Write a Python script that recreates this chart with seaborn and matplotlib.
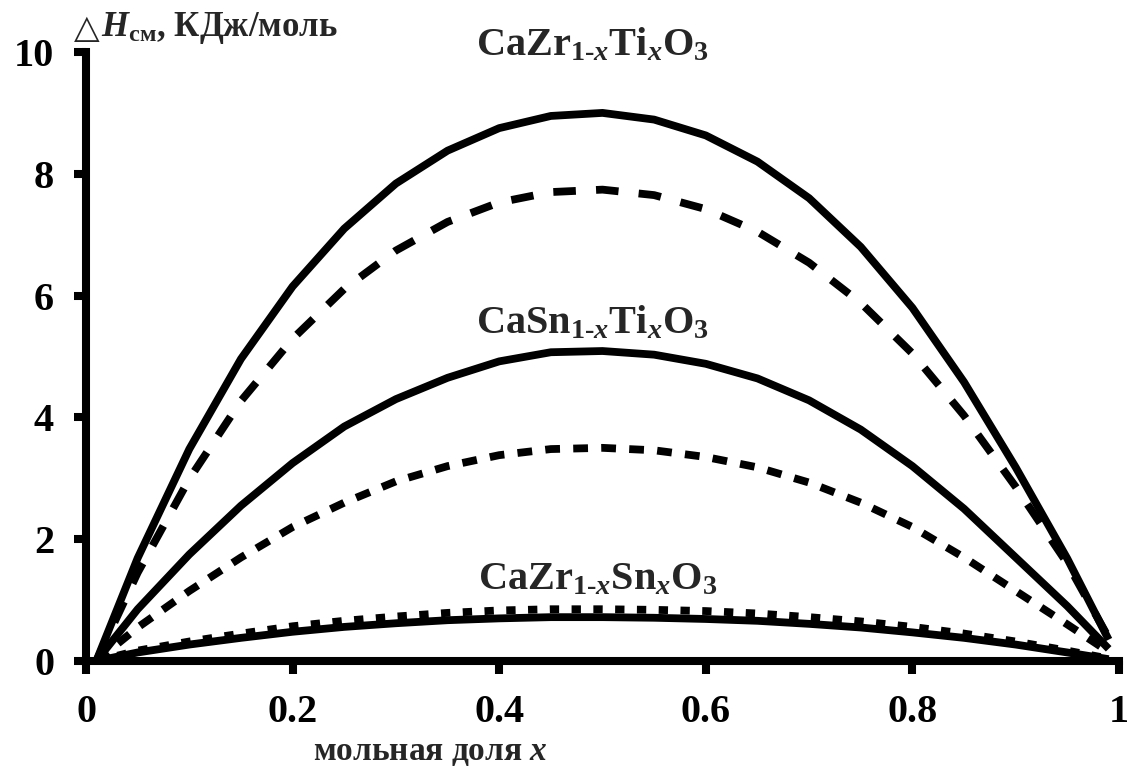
import numpy as np
import pandas as pd
import matplotlib
matplotlib.use("Agg")
import matplotlib.pyplot as plt
import seaborn as sns

# ---- data ----
x_frac = [0.01, 0.05, 0.10, 0.15, 0.20, 0.25, 0.30, 0.35, 0.40, 0.45, 0.50,
          0.55, 0.60, 0.65, 0.70, 0.75, 0.80, 0.85, 0.90, 0.95, 0.99]
zr_ti_solid = [0.0, 1.69, 3.48, 4.96, 6.15, 7.10, 7.84, 8.38, 8.75, 8.95, 9.00,
               8.89, 8.63, 8.20, 7.60, 6.80, 5.80, 4.58, 3.18, 1.68, 0.35]
zr_ti_dash = [0.0, 1.45, 2.99, 4.27, 5.29, 6.11, 6.74, 7.21, 7.53, 7.70, 7.74,
              7.65, 7.42, 7.05, 6.54, 5.88, 5.05, 4.03, 2.86, 1.60, 0.38]
sn_ti_solid = [0.0, 0.85, 1.75, 2.55, 3.25, 3.85, 4.30, 4.65, 4.92, 5.07, 5.09,
               5.03, 4.88, 4.64, 4.28, 3.80, 3.20, 2.50, 1.70, 0.90, 0.20]
sn_ti_dash = [0.0, 0.55, 1.15, 1.70, 2.20, 2.60, 2.95, 3.20, 3.38, 3.48, 3.50,
              3.46, 3.35, 3.18, 2.93, 2.60, 2.20, 1.70, 1.15, 0.60, 0.15]
zr_sn_solid = [0.0, 0.14, 0.27, 0.38, 0.48, 0.56, 0.62, 0.67, 0.70, 0.72, 0.72,
               0.71, 0.69, 0.66, 0.61, 0.55, 0.47, 0.38, 0.27, 0.14, 0.03]
zr_sn_dot = [0.0, 0.17, 0.32, 0.45, 0.57, 0.66, 0.73, 0.79, 0.83, 0.85, 0.85,
             0.84, 0.82, 0.78, 0.72, 0.65, 0.56, 0.45, 0.32, 0.17, 0.04]

x_ticks = [0, 0.2, 0.4, 0.6, 0.8, 1]
x_tick_labels = ["0", "0.2", "0.4", "0.6", "0.8", "1"]
y_ticks = [0, 2, 4, 6, 8, 10]
y_tick_labels = ["0", "2", "4", "6", "8", "10"]

labels = [r"CaZr$_{1\text{-}x}$Ti$_{x}$O$_{3}$",
          r"CaSn$_{1\text{-}x}$Ti$_{x}$O$_{3}$",
          r"CaZr$_{1\text{-}x}$Sn$_{x}$O$_{3}$"]
delta_sym = "△"
y_title = r"$\mathit{H}_{\mathrm{см}}$, КДж/моль"
x_title = r"мольная доля $\mathit{x}$"

# ---- style ----
sns.set_theme(style="white")
plt.rcParams["font.family"] = ["Liberation Serif", "DejaVu Serif"]
plt.rcParams["font.weight"] = "bold"
plt.rcParams["mathtext.fontset"] = "custom"
plt.rcParams["mathtext.rm"] = "Liberation Serif:bold"
plt.rcParams["mathtext.bf"] = "Liberation Serif:bold"
plt.rcParams["mathtext.it"] = "Liberation Serif:italic:bold"

W, H = 1127, 769
fig = plt.figure(figsize=(W / 100, H / 100), dpi=100)
ax = fig.add_axes([86 / W, 1 - 661 / H, (1119 - 86) / W, (661 - 52) / H])

LW = 5.6
series = [
    (zr_ti_solid, "-"),
    (zr_ti_dash, (0, (2.9, 2.6))),
    (sn_ti_solid, "-"),
    (sn_ti_dash, (0, (1.9, 1.7))),
    (zr_sn_solid, "-"),
    (zr_sn_dot, (0, (1.2, 1.6))),
]
for vals, ls in series:
    sns.lineplot(x=x_frac, y=vals, ax=ax, color="black", lw=LW,
                 linestyle=ls, solid_capstyle="butt", dash_capstyle="butt",
                 solid_joinstyle="round")

ax.set_xlim(0, 1)
ax.set_ylim(0, 10)
ax.set_xticks(x_ticks)
ax.set_xticklabels(x_tick_labels)
ax.set_yticks(y_ticks)
ax.set_yticklabels(y_tick_labels)
ax.set_xlabel("")
ax.set_ylabel("")
for s in ["top", "right"]:
    ax.spines[s].set_visible(False)
for s in ["left", "bottom"]:
    ax.spines[s].set_visible(True)
    ax.spines[s].set_color("black")
    ax.spines[s].set_linewidth(5.8)
    ax.spines[s].set_capstyle("projecting")
ax.tick_params(axis="both", which="major", direction="out", length=9,
               width=5.8, color="black", labelsize=29, labelcolor="black",
               bottom=True, left=True, top=False, right=False)
ax.tick_params(axis="y", pad=14)
ax.tick_params(axis="x", pad=15)
for lab in ax.get_xticklabels() + ax.get_yticklabels():
    lab.set_fontweight("bold")
ax.patch.set_visible(False)

ax.text(0.49, 10.1, labels[0], ha="center", va="center", fontsize=29,
        fontweight="bold")
ax.text(0.49, 5.55, labels[1], ha="center", va="center", fontsize=29,
        fontweight="bold")
ax.text(0.495, 1.33, labels[2], ha="center", va="center", fontsize=29,
        fontweight="bold")

fig.text(74 / W, 1 - 28 / H, delta_sym, ha="left", va="center", fontsize=24,
         family="DejaVu Sans", fontweight="normal")
fig.text(101 / W, 1 - 28 / H, y_title, ha="left", va="center", fontsize=25,
         fontweight="bold")
fig.text(430 / W, 1 - 752 / H, x_title, ha="center", va="center",
         fontsize=24, fontweight="bold")

fig.savefig("out.png", dpi=100, facecolor="white")
